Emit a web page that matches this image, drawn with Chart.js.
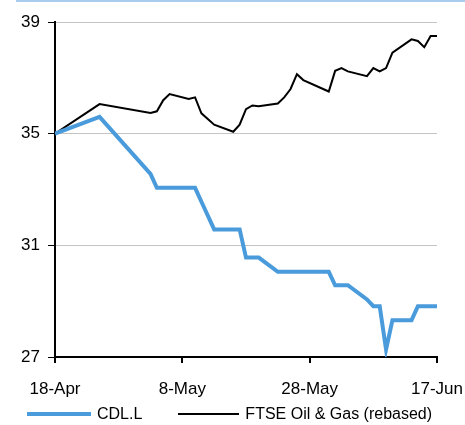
<!DOCTYPE html>
<html>
<head>
<meta charset="utf-8">
<script src="https://cdn.jsdelivr.net/npm/chart.js@4.4.1/dist/chart.umd.min.js"></script>
<style>
    body { margin: 0; background: #fff; }
    #wrap { position: relative; width: 465px; height: 425px; font-family: 'Liberation Sans', Arial, sans-serif; }
    #lineChart { display: block; }
    #topRule { position: absolute; top: 0; left: 16px; right: 0; height: 2px; background: #a9cdef; }
    #legend { position: absolute; left: 27px; top: 405px; display: flex; align-items: center; font-size: 16px; line-height: 18px; color: #000; white-space: nowrap; }
    #legend .item { display: flex; align-items: center; margin-right: 36px; }
    #legend .swatch { display: block; margin-right: 6px; flex: none; }
</style>
</head>
<body>
<div id="wrap">
    <div id="topRule"></div>
    <canvas id="lineChart" width="465" height="425"></canvas>
    <div id="legend"></div>
</div>
<script>
// days counted from 18-Apr
const days = [0, 7, 15, 16, 17, 18, 21, 22, 23, 25, 28, 29, 30, 31, 32, 35, 36, 37, 38, 39,
    43, 44, 45, 46, 49, 50, 51, 52, 53, 56, 57, 58, 59, 60];
const cdlValues = [35.0, 35.6, 33.56, 33.06, 33.06, 33.06, 33.06, 33.06, 32.56, 31.57, 31.57, 31.57,
    30.56, 30.56, 30.56, 30.05, 30.05, 30.05, 30.05, 30.05, 30.05, 29.57, 29.57, 29.57, 29.06,
    28.82, 28.82, 27.27, 28.32, 28.32, 28.82, 28.82, 28.82, 28.82];
const ftseValues = [35.0, 36.06, 35.74, 35.8, 36.2, 36.42, 36.24, 36.3, 35.73, 35.32, 35.07, 35.32,
    35.88, 36.01, 35.98, 36.08, 36.3, 36.6, 37.13, 36.92, 36.51, 37.25, 37.35, 37.23, 37.06,
    37.35, 37.23, 37.35, 37.9, 38.38, 38.32, 38.1, 38.5, 38.5];
const tickDays = [0, 20, 40, 60];
const tickLabels = ['18-Apr', '8-May', '28-May', '17-Jun'];

function toPoints(values) {
    let pts = [];
    for (let i = 0; i < days.length; i++) {
        pts.push({ x: days[i], y: values[i] });
    }
    return pts;
}

Chart.defaults.font.family = "'Liberation Sans', Arial, sans-serif";
Chart.defaults.color = '#000';

var ctx = document.getElementById('lineChart').getContext('2d');
var chart = new Chart(ctx, {
    type: 'line',
    data: {
        datasets: [
            {
                label: 'CDL.L',
                data: toPoints(cdlValues),
                borderColor: '#4a9bdb',
                backgroundColor: '#4a9bdb',
                borderWidth: 4,
                pointRadius: 0,
                tension: 0
            },
            {
                label: 'FTSE Oil & Gas (rebased)',
                data: toPoints(ftseValues),
                borderColor: '#000',
                backgroundColor: '#000',
                borderWidth: 2,
                pointRadius: 0,
                tension: 0
            }
        ]
    },
    options: {
        responsive: false,
        animation: false,
        layout: { padding: { left: 0, right: 0, top: 22, bottom: 0 } },
        plugins: {
            tooltip: { enabled: false },
            legend: { display: false }
        },
        scales: {
            x: {
                type: 'linear',
                min: 0,
                max: 60,
                afterBuildTicks: function (scale) {
                    scale.ticks = tickDays.map(v => ({ value: v }));
                },
                afterFit: function (scale) {
                    scale.height = 68;
                    scale.paddingLeft = 0;
                    scale.paddingRight = 28;
                },
                ticks: {
                    font: { size: 17 },
                    maxRotation: 0,
                    padding: 16,
                    callback: function (value) {
                        return tickLabels[tickDays.indexOf(value)];
                    }
                },
                grid: { drawOnChartArea: false, tickColor: '#000', tickLength: 6, lineWidth: 2 },
                border: { color: '#000', width: 2 }
            },
            y: {
                min: 27,
                max: 39,
                afterFit: function (scale) { scale.width = 55; },
                ticks: { stepSize: 4, font: { size: 17 }, padding: 8 },
                grid: { color: '#c4c4c4', tickColor: '#000', tickLength: 7, lineWidth: 1 },
                border: { color: '#000', width: 2 }
            }
        }
    }
});

// legend under the axis, one line sample per series
let legendEl = document.getElementById('legend');
let sampleWidths = [64, 61];
chart.data.datasets.forEach(function (ds, i) {
    let item = document.createElement('div');
    item.className = 'item';
    let swatch = document.createElement('span');
    swatch.className = 'swatch';
    swatch.style.width = sampleWidths[i] + 'px';
    swatch.style.height = ds.borderWidth + 'px';
    swatch.style.background = ds.borderColor;
    let text = document.createElement('span');
    text.textContent = ds.label;
    item.appendChild(swatch);
    item.appendChild(text);
    legendEl.appendChild(item);
});
</script>
</body>
</html>
